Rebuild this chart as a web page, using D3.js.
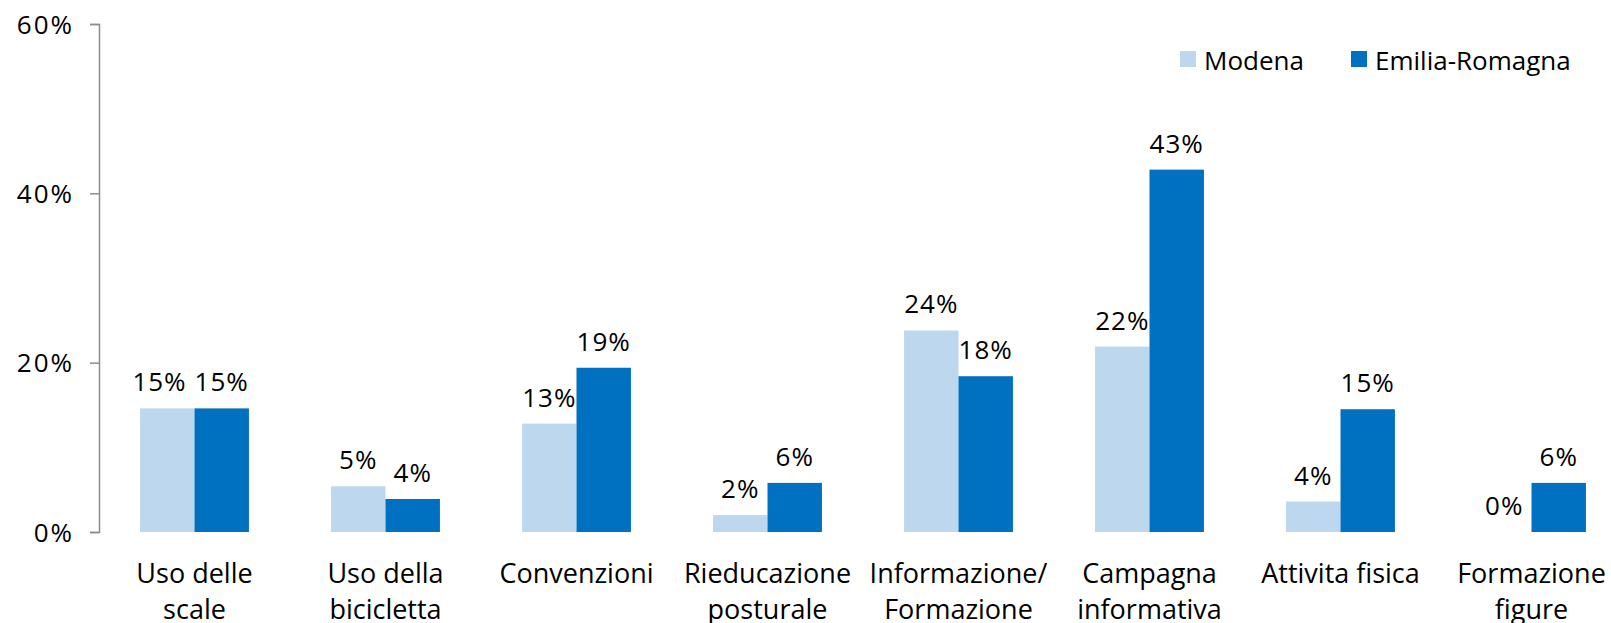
<!DOCTYPE html>
<html>
<head>
<meta charset="utf-8">
<script src="https://cdnjs.cloudflare.com/ajax/libs/d3/7.8.5/d3.min.js"></script>
<style>
  body { margin: 0; background: #fff; overflow: hidden; }
  svg text { font-family: "Open Sans", sans-serif; fill: #000; }
  .axis path, .axis line { stroke: #8c8c8c; stroke-width: 1.5; }
</style>
</head>
<body>
<svg id="chart" width="1611" height="623"></svg>
<script>
'use strict';

// categories (split into lines the way the chart wraps them)
const categories = [
    ["Uso delle", "scale"],
    ["Uso della", "bicicletta"],
    ["Convenzioni"],
    ["Rieducazione", "posturale"],
    ["Informazione/", "Formazione"],
    ["Campagna", "informativa"],
    ["Attivita fisica"],
    ["Formazione", "figure"]
];
const seriesNames = ["Modena", "Emilia-Romagna"];
const modena = [14.6, 5.4, 12.8, 2.0, 23.8, 21.9, 3.6, 0];
const emiliaRomagna = [14.6, 3.9, 19.4, 5.8, 18.4, 42.8, 14.5, 5.8];
const yTicks = [0, 20, 40, 60];

const colors = ["#BDD7EE", "#0070C0"];

var svg = d3.select("#chart");

// plot area runs past the right edge, like the original
var x0 = d3.scaleBand()
    .domain(d3.range(categories.length))
    .range([99, 1627])
    .paddingInner(0.43)
    .paddingOuter(0.215);

var x1 = d3.scaleBand()
    .domain([0, 1])
    .range([0, x0.bandwidth()]);

var y = d3.scaleLinear()
    .domain([0, 60])
    .range([532, 24]);

// y axis
var yAxis = svg.append("g")
    .attr("class", "axis")
    .attr("transform", "translate(99,0)")
    .call(d3.axisLeft(y)
        .tickValues(yTicks)
        .tickSize(9)
        .tickPadding(16)
        .tickFormat(function (d) { return d + "%"; }));
yAxis.selectAll("text")
    .style("font-size", "26px")
    .style("letter-spacing", "2px")
    .attr("dy", "0.35em");

var rows = categories.map(function (c, i) {
    return { i: i, vals: [modena[i], emiliaRomagna[i]] };
});

var groups = svg.selectAll("g.grp")
    .data(rows)
    .enter().append("g")
    .attr("class", "grp")
    .attr("transform", function (d) { return "translate(" + x0(d.i) + ",0)"; });

groups.selectAll("rect")
    .data(function (d) { return d.vals; })
    .enter().append("rect")
    .attr("x", function (d, j) { return x1(j); })
    .attr("y", function (d) { return y(d); })
    .attr("width", x1.bandwidth())
    .attr("height", function (d) { return y(0) - y(d); })
    .attr("fill", function (d, j) { return colors[j]; });

// value labels
groups.selectAll("text.val")
    .data(function (d) { return d.vals; })
    .enter().append("text")
    .attr("class", "val")
    .attr("x", function (d, j) { return x1(j) + x1.bandwidth() / 2; })
    .attr("y", function (d) { return y(d) - 17; })
    .attr("text-anchor", "middle")
    .style("font-size", "26px")
    .style("letter-spacing", "1px")
    .text(function (d) { return Math.round(d) + "%"; });

// push the Modena label left when it would run into its neighbour
groups.each(function () {
    var labels = d3.select(this).selectAll("text.val").nodes();
    var a = labels[0].getBBox(), b = labels[1].getBBox();
    var vertical = a.y < b.y + b.height && b.y < a.y + a.height;
    var overlap = a.x + a.width + 8 - b.x;
    if (vertical && overlap > 0) {
        d3.select(labels[0]).attr("x", +d3.select(labels[0]).attr("x") - overlap);
    }
});

// category labels
var catText = svg.selectAll("text.cat")
    .data(rows)
    .enter().append("text")
    .attr("class", "cat")
    .attr("x", function (d) { return x0(d.i) + x0.bandwidth() / 2; })
    .attr("y", 583)
    .attr("text-anchor", "middle")
    .style("font-size", "27px");

catText.selectAll("tspan")
    .data(function (d) { return categories[d.i]; })
    .enter().append("tspan")
    .attr("x", function () { return d3.select(this.parentNode).attr("x"); })
    .attr("dy", function (d, k) { return k === 0 ? 0 : 36; })
    .text(function (d) { return d; });

// legend
var legend = svg.selectAll("g.leg")
    .data(seriesNames)
    .enter().append("g")
    .attr("class", "leg")
    .attr("transform", function (d, j) { return "translate(" + [1180, 1351][j] + ",51)"; });

legend.append("rect")
    .attr("width", 16)
    .attr("height", 16)
    .attr("fill", function (d, j) { return colors[j]; });

legend.append("text")
    .attr("x", 24)
    .attr("y", 19)
    .style("font-size", "26px")
    .text(function (d) { return d; });
</script>
</body>
</html>
